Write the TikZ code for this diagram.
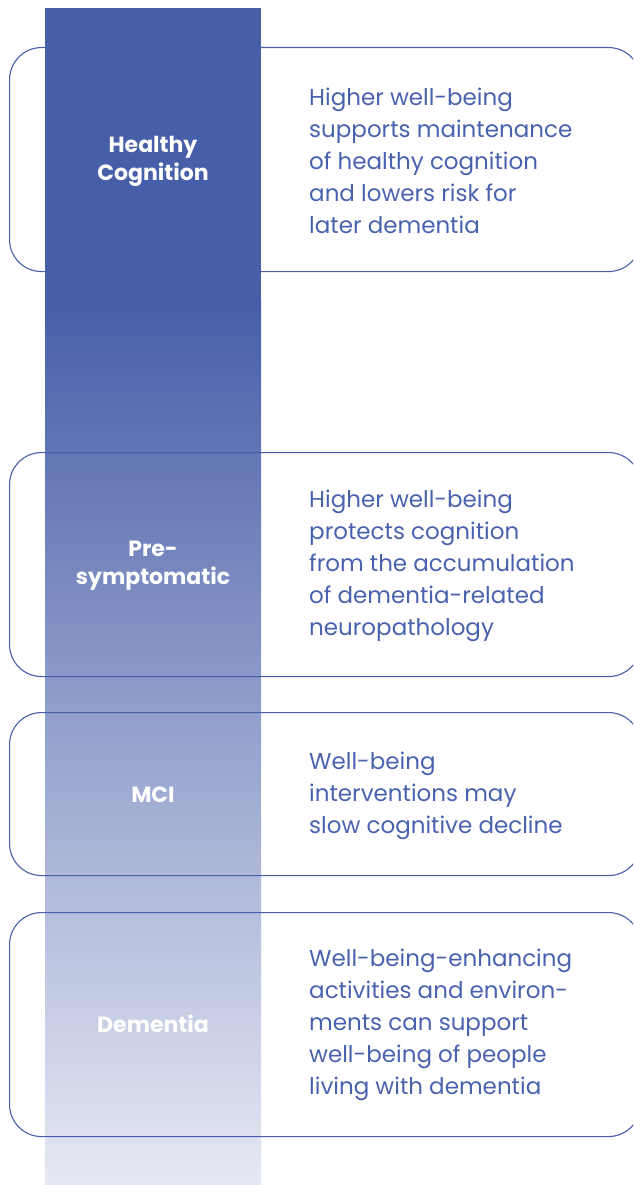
\documentclass[tikz,border=0pt]{standalone}
\usepackage{fontspec}
\setmainfont{Poppins}
\usetikzlibrary{positioning}
\definecolor{wbblue}{HTML}{475EA8}
\definecolor{wbpale}{HTML}{E6E9F4}
\definecolor{wbtext}{HTML}{4A62AE}

\begin{document}
\begin{tikzpicture}[
    x=1pt, y=-1pt,
    stagebox/.style={
      draw=wbblue,
      line width=1.1pt,
      rounded corners=32pt,
      minimum width=631pt,
      inner sep=0pt,
      anchor=north west
    },
    stage/.style={
      text=white,
      align=center,
      font=\fontsize{22}{28}\selectfont\bfseries
    },
    note/.style={
      text=wbtext,
      align=left,
      anchor=west,
      inner sep=0pt,
      font=\fontsize{23}{32}\selectfont
    }
  ]
  \clip (0,0) rectangle (633,1185);
  % the bar
  \fill[wbblue] (45,8) rectangle (261,302);
  \shade[top color=wbblue, bottom color=wbpale] (45,300) rectangle (261,1185);

  \node[stagebox, minimum height=224pt] (hcbox) at (9,47) {};
  \node[stagebox, minimum height=224pt] (psbox) at (9,452) {};
  \node[stagebox, minimum height=163pt] (mcibox) at (9,712) {};
  \node[stagebox, minimum height=224pt] (dembox) at (9,912) {};

  \node[stage] (hc) at (153,161) {Healthy\\Cognition};
  \node[stage] (ps) at (153,566) {Pre-\\symptomatic};
  \node[stage] (mci) at (153,795) {MCI};
  \node[stage] (dem) at (153,1024) {Dementia};

  \node[note] (hcnote) at (309,161) {Higher well-being\\supports maintenance\\of healthy cognition\\and lowers risk for\\later dementia};
  \node[note] (psnote) at (309,566) {Higher well-being\\protects cognition\\from the accumulation\\of dementia-related\\neuropathology};
  \node[note] (mcinote) at (309,796) {Well-being\\interventions may\\slow cognitive decline};
  \node[note] (demnote) at (309,1025) {Well-being-enhancing\\activities and environ-\\ments can support\\well-being of people\\living with dementia};
\end{tikzpicture}
\end{document}
